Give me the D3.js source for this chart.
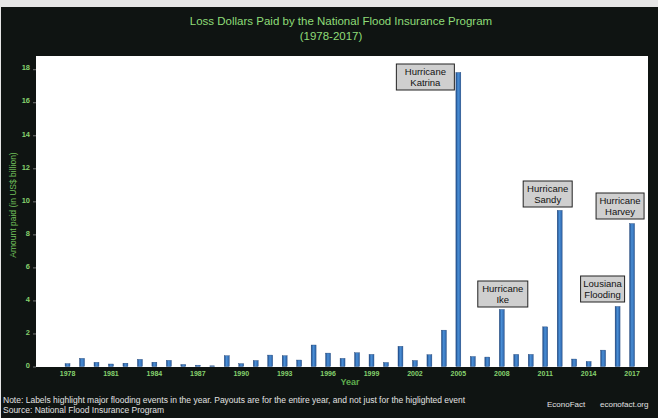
<!DOCTYPE html>
<html>
<head>
<meta charset="utf-8">
<script src="https://cdn.jsdelivr.net/npm/d3@7"></script>
<style>
html, body {
  margin: 0;
  padding: 0;
  background: #e6e6e6;
  overflow: hidden;
}
text {
  font-family: "Liberation Sans", Arial, sans-serif;
}
</style>
</head>
<body>
<script>

// NFIP loss dollars paid, US$ billion
var years = d3.range(1978, 2018);
var paid = [0.17, 0.49, 0.25, 0.15, 0.20, 0.43, 0.26, 0.37, 0.12, 0.08,
            0.04, 0.65, 0.17, 0.36, 0.69, 0.65, 0.39, 1.30, 0.81, 0.49,
            0.83, 0.73, 0.24, 1.22, 0.36, 0.71, 2.20, 17.8, 0.60, 0.57,
            3.45, 0.73, 0.73, 2.40, 9.45, 0.45, 0.30, 0.99, 3.63, 8.65];
var tickYears = [1978, 1981, 1984, 1987, 1990, 1993, 1996, 1999, 2002, 2005, 2008, 2011, 2014, 2017];
var yTicks = [0, 2, 4, 6, 8, 10, 12, 14, 16, 18];

var eventYears = [2005, 2008, 2012, 2016, 2017];
var eventLabels = [["Hurricane", "Katrina"], ["Hurricane", "Ike"], ["Hurricane", "Sandy"],
                   ["Lousiana", "Flooding"], ["Hurricane", "Harvey"]];

// where each label box sits relative to its bar (layout only)
var boxLayout = [
  {dx: -33, top: 64, w: 58},
  {dx: 1, top: 281, w: 50},
  {dx: -12, top: 181, w: 49},
  {dx: -15, top: 276, w: 44},
  {dx: -12, top: 193, w: 48}
];

var w = 658, h = 418;
var svg = d3.select('body').append('svg')
  .attr('width', w)
  .attr('height', h);

// dark frame
svg.append('rect')
  .attr('x', 1).attr('y', 7)
  .attr('width', w - 1).attr('height', h - 7)
  .attr('fill', '#0f1412');

var plot = {left: 36, right: 648, top: 56, bottom: 367};

svg.append('rect')
  .attr('x', plot.left).attr('y', plot.top)
  .attr('width', plot.right - plot.left)
  .attr('height', plot.bottom - plot.top)
  .attr('fill', '#ffffff');

var x = d3.scaleBand()
  .domain(years)
  .range([60.3, 639.3])
  .paddingInner(0.66)
  .paddingOuter(0.33);

var y = d3.scaleLinear()
  .domain([0, 18.8])
  .range([366.5, plot.top]);

var grad = svg.append('defs').append('linearGradient')
  .attr('id', 'barfill')
  .attr('x1', '0%').attr('x2', '100%');
grad.append('stop').attr('offset', '0%').attr('stop-color', '#1f4c8a');
grad.append('stop').attr('offset', '45%').attr('stop-color', '#4a8fd6');
grad.append('stop').attr('offset', '100%').attr('stop-color', '#2d63a8');

svg.append('g').selectAll('rect')
  .data(years)
  .enter().append('rect')
  .attr('x', function(d){ return x(d); })
  .attr('y', function(d, i){ return y(paid[i]); })
  .attr('width', x.bandwidth())
  .attr('height', function(d, i){ return y(0) - y(paid[i]); })
  .attr('fill', 'url(#barfill)')
  .attr('stroke', '#1a3f73')
  .attr('stroke-width', 0.4);

// y axis
var yAxis = svg.append('g')
  .attr('transform', 'translate(' + plot.left + ',0)')
  .call(d3.axisLeft(y).tickValues(yTicks).tickSize(3).tickPadding(3));
yAxis.select('.domain').remove();
yAxis.selectAll('line').attr('stroke', '#777');
yAxis.selectAll('text')
  .attr('fill', '#86d26e')
  .attr('dy', '0.1em')
  .style('font-size', '7.5px')
  .style('font-weight', 'bold');

// x axis
var xAxis = svg.append('g')
  .attr('transform', 'translate(0,' + plot.bottom + ')')
  .call(d3.axisBottom(x).tickValues(tickYears).tickSize(0).tickPadding(4));
xAxis.select('.domain').remove();
xAxis.selectAll('text')
  .attr('fill', '#86d26e')
  .style('font-size', '7px')
  .style('font-weight', 'bold');

svg.append('text')
  .attr('x', 350).attr('y', 385)
  .attr('text-anchor', 'middle')
  .attr('fill', '#5fae4e')
  .style('font-size', '9px')
  .style('font-weight', 'bold')
  .text('Year');

svg.append('text')
  .attr('transform', 'translate(16,205) rotate(-90)')
  .attr('text-anchor', 'middle')
  .attr('fill', '#6fbf5a')
  .style('font-size', '8.5px')
  .text('Amount paid (in US$ billion)');

// title
svg.append('text')
  .attr('x', 341).attr('y', 25)
  .attr('text-anchor', 'middle')
  .attr('fill', '#8edc78')
  .style('font-size', '11.5px')
  .text('Loss Dollars Paid by the National Flood Insurance Program');
svg.append('text')
  .attr('x', 331).attr('y', 40)
  .attr('text-anchor', 'middle')
  .attr('fill', '#8edc78')
  .style('font-size', '11.5px')
  .text('(1978-2017)');

// event label boxes
var boxes = svg.append('g').selectAll('g')
  .data(eventYears)
  .enter().append('g')
  .attr('transform', function(d, i){
    var b = boxLayout[i];
    var cx = x(d) + x.bandwidth() / 2 + b.dx;
    return 'translate(' + (cx - b.w / 2) + ',' + b.top + ')';
  });

boxes.append('rect')
  .attr('width', function(d, i){ return boxLayout[i].w; })
  .attr('height', 26)
  .attr('fill', '#cfcfcf')
  .attr('stroke', '#222')
  .attr('stroke-width', 1);

boxes.each(function(d, i){
  var g = d3.select(this);
  eventLabels[i].forEach(function(line, j){
    g.append('text')
      .attr('x', boxLayout[i].w / 2)
      .attr('y', 10.5 + j * 11)
      .attr('text-anchor', 'middle')
      .attr('fill', '#111')
      .style('font-size', '9.5px')
      .text(line);
  });
});

// footer
var foot = svg.append('g').attr('fill', '#e2e2e2').style('font-size', '8.5px');
foot.append('text').attr('x', 3).attr('y', 403)
  .text('Note: Labels highlight major flooding events in the year. Payouts are for the entire year, and not just for the higlighted event');
foot.append('text').attr('x', 3).attr('y', 413)
  .text('Source: National Flood Insurance Program');
foot.append('text').attr('x', 547).attr('y', 407).style('font-size', '8px')
  .text('EconoFact');
foot.append('text').attr('x', 600).attr('y', 407).style('font-size', '8px')
  .text('econofact.org');

</script>
</body>
</html>
